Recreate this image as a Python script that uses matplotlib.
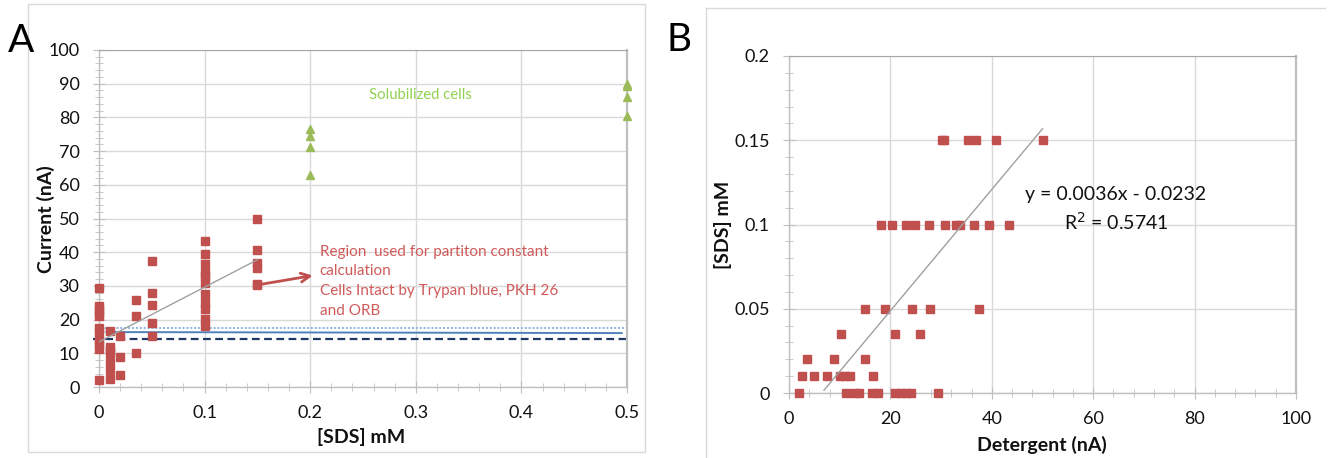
import numpy as np
import matplotlib
matplotlib.use("Agg")
import matplotlib.pyplot as plt
from matplotlib.ticker import MultipleLocator
from matplotlib.lines import Line2D

plt.rcParams['font.family'] = ['Lato', 'DejaVu Sans']

# ---- data: current (nA) measured at each SDS concentration (mM) ----
sds_levels = [0.0, 0.01, 0.02, 0.035, 0.05, 0.1, 0.15]
current_by_level = [
    [2.0, 11.2, 12.8, 13.8, 16.3, 17.6, 21.0, 22.0, 23.0, 24.0, 29.3],
    [2.5, 5.0, 7.5, 10.0, 11.0, 12.0, 16.5],
    [3.5, 8.8, 15.0],
    [10.2, 21.0, 25.8],
    [15.0, 19.0, 24.3, 27.8, 37.5],
    [18.2, 20.3, 23.0, 24.8, 27.7, 30.8, 33.0, 33.8, 36.5, 39.4, 43.3],
    [30.2, 30.6, 35.4, 36.8, 40.8, 50.0],
]
# solubilized cells
sol_levels = [0.2, 0.5]
sol_current = [
    [62.8, 71.2, 74.6, 76.6],
    [80.3, 86.2, 89.3, 89.9],
]
# baseline reference lines (nA)
baseline_dashed = 14.2
baseline_solid = (16.3, 16.0)
baseline_dotted = 17.5

# linear trend for panel B (SDS vs detergent current)
slope_b = 0.0036
icpt_b = -0.0232
r2_b = 0.5741

note_lines = ['Region  used for partiton constant', 'calculation',
              'Cells Intact by Trypan blue, PKH 26', 'and ORB']

sds = np.concatenate([[lv] * len(c) for lv, c in zip(sds_levels, current_by_level)])
cur = np.concatenate(current_by_level)
sol_x = np.concatenate([[lv] * len(c) for lv, c in zip(sol_levels, sol_current)])
sol_y = np.concatenate(sol_current)

RED = '#c0504d'
GREEN = '#9bbb59'
GRID = '#d9d9d9'
TXT = '#111111'
TICK_FS = 13
LABEL_FS = 14

W, H = 1332, 458
fig = plt.figure(figsize=(W / 100, H / 100), dpi=100)


def px_axes(x0, y0, x1, y1):
    # pixel box (left, top, right, bottom) -> figure fraction axes
    return fig.add_axes([x0 / W, 1 - y1 / H, (x1 - x0) / W, (y1 - y0) / H])


def excel_style(ax):
    ax.set_axisbelow(True)
    for s in ['left', 'bottom']:
        ax.spines[s].set_color('#bfbfbf')
        ax.spines[s].set_linewidth(1.0)
    ax.spines['top'].set_color('#a6a6a6')
    ax.spines['right'].set_color('#bfbfbf')
    ax.spines['right'].set_linewidth(1.6)
    ax.tick_params(which='both', direction='inout', color='#bfbfbf',
                   labelsize=TICK_FS, labelcolor=TXT)
    ax.tick_params(axis='y', pad=10)
    ax.tick_params(axis='x', pad=9)
    ax.tick_params(which='major', length=8)
    ax.tick_params(which='minor', length=6)
    ax.xaxis.label.set_va('center')
    ax.yaxis.label.set_va('center')


# outer frames
fig.add_artist(plt.Rectangle((28 / W, 1 - 452 / H), (645 - 28) / W, (452 - 4) / H,
                             transform=fig.transFigure, fill=False,
                             edgecolor='#d9d9d9', lw=1.0))
fig.add_artist(Line2D([706 / W, 706 / W], [0, 1 - 8 / H], transform=fig.transFigure,
                      color='#d9d9d9', lw=1.0))
fig.add_artist(Line2D([706 / W, 1325 / W], [1 - 8 / H, 1 - 8 / H], transform=fig.transFigure,
                      color='#d9d9d9', lw=1.0))

# ---------------- panel A ----------------
ax = px_axes(99, 50, 627, 387)
excel_style(ax)
ax.set_xlim(0, 0.5)
ax.set_ylim(0, 100)
ax.xaxis.set_minor_locator(MultipleLocator(0.02))
ax.yaxis.set_major_locator(MultipleLocator(10))
ax.yaxis.set_minor_locator(MultipleLocator(2))
ax.set_xticks(np.arange(0, 0.51, 0.1))
ax.set_xticklabels(['0', '0.1', '0.2', '0.3', '0.4', '0.5'])
ax.grid(True, which='major', color=GRID, lw=1.0)

ax.plot([-0.006, 0.5], [baseline_dashed] * 2, color='#1f3864', lw=1.6,
        ls=(0, (3.5, 2)), clip_on=False, zorder=2)
ax.plot([0.007, 0.495], baseline_solid, color='#4f81bd', lw=1.4, zorder=2)
ax.plot([-0.002, 0.5], [baseline_dotted] * 2, color='#8db3e2', lw=1.4,
        ls=(0, (1, 1)), clip_on=False, zorder=2)

ax.plot(sds, cur, 's', color=RED, ms=5.2, mec=RED, clip_on=False, zorder=3)
ax.plot(sol_x, sol_y, '^', color=GREEN, ms=5.3, mec=GREEN, clip_on=False, zorder=3)

# linear trend through the intact-cell region
k, b = np.polyfit(sds, cur, 1)
xt = np.array([sds.min(), sds.max()])
ax.plot(xt, k * xt + b, color='#a0a0a0', lw=1.0, zorder=4)

ax.annotate('', xy=(0.205, 33.2), xytext=(0.152, 30.4),
            arrowprops=dict(arrowstyle='->', color=RED, lw=2, mutation_scale=16))
for i, line in enumerate(note_lines):
    ax.text(0.209, 40.1 - 5.8 * i, line, color='#d05a5a', fontsize=11,
            va='center', ha='left')
ax.text(0.2556, 86.6, 'Solubilized cells', color='#92d050', fontsize=10.7,
        va='center', ha='left')

ax.set_xlabel('[SDS] mM', fontsize=LABEL_FS, fontweight='bold', color=TXT)
ax.set_ylabel('Current (nA)', fontsize=LABEL_FS, fontweight='bold', color=TXT)
ax.xaxis.set_label_coords(0.496, -0.147)
ax.yaxis.set_label_coords(-0.100, 0.498)
fig.text(8 / W, 1 - 41 / H, 'A', fontsize=28, va='center', ha='left')

# ---------------- panel B ----------------
bx = px_axes(789, 56, 1296, 393)
excel_style(bx)
bx.set_xlim(0, 100)
bx.set_ylim(0, 0.2)
bx.xaxis.set_major_locator(MultipleLocator(20))
bx.xaxis.set_minor_locator(MultipleLocator(4))
bx.yaxis.set_minor_locator(MultipleLocator(0.01))
bx.set_yticks([0, 0.05, 0.1, 0.15, 0.2])
bx.set_yticklabels(['0', '0.05', '0.1', '0.15', '0.2'])
bx.grid(True, which='major', color=GRID, lw=1.0)

red_b = sds <= 0.15
bx.plot(cur[red_b], sds[red_b], 's', color=RED, ms=5.2, mec=RED, clip_on=False, zorder=3)
xb = np.linspace(cur.min(), cur.max(), 50)
yb = slope_b * xb + icpt_b
bx.plot(xb[yb >= 0], yb[yb >= 0], color='#a0a0a0', lw=1.0, zorder=4)
bx.text(64.5, 0.1176, f'y = {slope_b:.4f}x - {abs(icpt_b):.4f}',
        fontsize=14, color=TXT, ha='center', va='center')
bx.text(64.6, 0.1018, f'R$^2$ = {r2_b:.4f}',
        fontsize=14, color=TXT, ha='center', va='center')

bx.set_xlabel('Detergent (nA)', fontsize=LABEL_FS, fontweight='bold', color=TXT)
bx.set_ylabel('[SDS] mM', fontsize=LABEL_FS, fontweight='bold', color=TXT)
bx.xaxis.set_label_coords(0.499, -0.153)
bx.yaxis.set_label_coords(-0.130, 0.4985)
fig.text(667 / W, 1 - 40 / H, 'B', fontsize=28, va='center', ha='left')

fig.savefig('out.png', dpi=100)
